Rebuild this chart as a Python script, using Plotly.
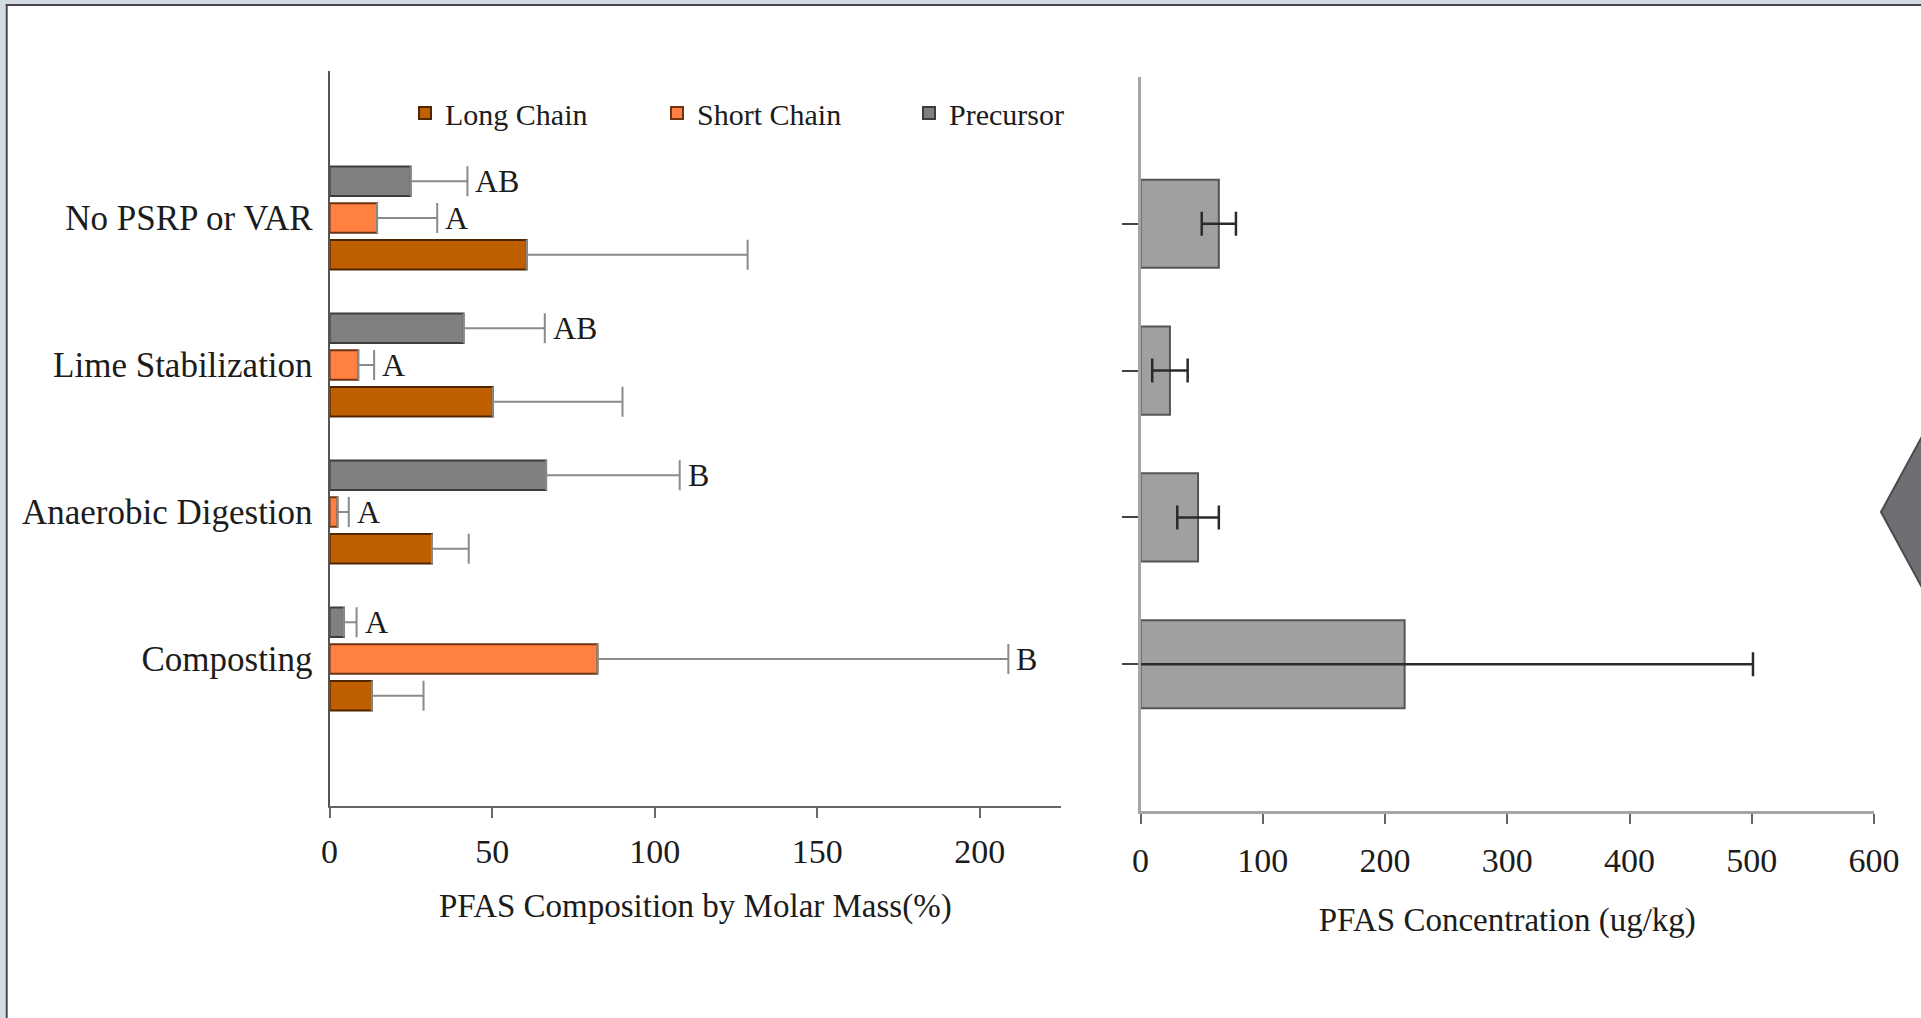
import plotly.graph_objects as go

# ---------------- data ----------------
categories = ["Composting", "Anaerobic Digestion", "Lime Stabilization", "No PSRP or VAR"]
series_names = ["Long Chain", "Short Chain", "Precursor"]

long_chain = [13.0, 31.5, 50.2, 60.6]
long_chain_err = [15.9, 11.3, 39.9, 68.0]
short_chain = [82.4, 2.4, 8.8, 14.6]
short_chain_err = [126.4, 3.5, 4.9, 18.5]
precursor = [4.4, 66.6, 41.2, 24.9]
precursor_err = [3.9, 41.1, 25.0, 17.5]

long_letters = ["", "", "", ""]
short_letters = ["B", "A", "A", "A"]
precursor_letters = ["A", "B", "AB", "AB"]

concentration = [216, 47, 24, 64]
concentration_err = [285, 17, 14.5, 14]

left_ticks = [0, 50, 100, 150, 200]
right_ticks = [0, 100, 200, 300, 400, 500, 600]

left_title = "PFAS Composition by Molar Mass(%)"
right_title = "PFAS Concentration (ug/kg)"

# ---------------- styling ----------------
W, H = 1921, 1018
FONT = "Liberation Serif"
TXT = "#1c1c1c"
BARGAP = 0.25
BARGROUPGAP = 0.2

fills = ["#C05F00", "#FF8040", "#808080"]
borders = ["#4f2600", "#6b3514", "#3d3d3d"]

values = [long_chain, short_chain, precursor]
errors = [long_chain_err, short_chain_err, precursor_err]
letters = [long_letters, short_letters, precursor_letters]


def px_x(p):
    return p / W


def px_y(p):
    return 1 - p / H


fig = go.Figure()

for name, v, e, fc, bc in zip(series_names, values, errors, fills, borders):
    fig.add_trace(go.Bar(
        name=name, orientation="h", y=categories, x=v,
        marker=dict(color=fc, line=dict(color=bc, width=2)),
        error_x=dict(type="data", array=e, arrayminus=[0] * len(e), symmetric=False,
                     color="#8a8a8a", thickness=2, width=15),
        xaxis="x", yaxis="y",
    ))

fig.add_trace(go.Bar(
    name="PFAS Concentration", orientation="h", y=categories, x=concentration,
    width=0.6, showlegend=False,
    marker=dict(color="#A0A0A0", line=dict(color="#555555", width=2)),
    error_x=dict(type="data", array=concentration_err, symmetric=True,
                 color="#2b2b2b", thickness=2.5, width=12),
    xaxis="x2", yaxis="y2",
))

# significance letters placed at the end of each error bar
annotations = []
n = len(series_names)
slot = (1 - BARGAP) / n
for i, (v, e, let) in enumerate(zip(values, errors, letters)):
    off = -(1 - BARGAP) / 2 + (i + 0.5) * slot
    for j, (vv, ee, ll) in enumerate(zip(v, e, let)):
        if ll:
            annotations.append(dict(
                x=vv + ee, y=j + off, xref="x", yref="y", text=ll, showarrow=False,
                xanchor="left", yanchor="middle", xshift=6,
                font=dict(family=FONT, size=32, color=TXT)))

shapes = [
    dict(type="rect", xref="paper", yref="paper", x0=0, x1=px_x(5.5), y0=0, y1=1,
         fillcolor="#D3DBE3", line=dict(width=0), layer="above"),
    dict(type="rect", xref="paper", yref="paper", x0=0, x1=1, y0=px_y(4), y1=1,
         fillcolor="#D3DBE3", line=dict(width=0), layer="above"),
    dict(type="line", xref="paper", yref="paper", x0=px_x(6.7), x1=px_x(6.7), y0=0, y1=px_y(4.5),
         line=dict(color="#4d4350", width=2), layer="above"),
    dict(type="line", xref="paper", yref="paper", x0=px_x(5.7), x1=1, y0=px_y(5), y1=px_y(5),
         line=dict(color="#4d4350", width=2), layer="above"),
    dict(type="path", xref="paper", yref="paper",
         path="M {},{} L {},{} L {},{} Z".format(px_x(1881), px_y(512), px_x(1932), px_y(418),
                                                px_x(1932), px_y(606)),
         fillcolor="#6e6e73", line=dict(color="#4a4a4e", width=2), layer="above"),
]

fig.update_layout(
    width=W, height=H,
    margin=dict(l=0, r=0, t=0, b=0, autoexpand=False),
    paper_bgcolor="white", plot_bgcolor="white",
    font=dict(family=FONT, color=TXT),
    barmode="group", bargap=BARGAP, bargroupgap=BARGROUPGAP,
    showlegend=True,
    legend=dict(orientation="h", x=px_x(405), xanchor="left", y=px_y(113), yanchor="middle",
                font=dict(family=FONT, size=30, color=TXT), traceorder="normal",
                entrywidth=207, entrywidthmode="pixels", bgcolor="rgba(0,0,0,0)"),
    xaxis=dict(domain=[px_x(329.6), px_x(1061)], range=[0, 225], anchor="y", automargin=False,
               tickvals=left_ticks, ticks="outside", ticklen=10, tickwidth=2, tickcolor="#6a6a6a",
               showline=True, linecolor="#666666", linewidth=2, showgrid=False, zeroline=False,
               tickfont=dict(size=34, family=FONT, color=TXT), ticklabelstandoff=4,
               title=dict(text=left_title, font=dict(size=33, family=FONT, color=TXT), standoff=25)),
    yaxis=dict(domain=[px_y(806), px_y(71)], range=[-1, 4], anchor="x", type="category",
               categoryorder="array", categoryarray=categories, automargin=False,
               ticks="", showline=True, linecolor="#555555", linewidth=2, showgrid=False,
               tickfont=dict(size=35, family=FONT, color=TXT), ticklabelstandoff=8),
    xaxis2=dict(domain=[px_x(1140.6), px_x(1874)], range=[0, 600], anchor="y2", automargin=False,
                tickvals=right_ticks, ticks="outside", ticklen=10, tickwidth=2, tickcolor="#666666",
                showline=True, linecolor="#a6a6a6", linewidth=3, showgrid=False, zeroline=False,
                tickfont=dict(size=34, family=FONT, color=TXT), ticklabelstandoff=7,
                title=dict(text=right_title, font=dict(size=33, family=FONT, color=TXT), standoff=31)),
    yaxis2=dict(domain=[px_y(811), px_y(77)], range=[-1, 4], anchor="x2", type="category",
                categoryorder="array", categoryarray=categories, automargin=False,
                ticks="outside", ticklen=16, tickwidth=2, tickcolor="#444444",
                showticklabels=False, showline=True, linecolor="#a6a6a6", linewidth=3,
                showgrid=False),
    annotations=annotations,
    shapes=shapes,
)

fig.write_html("out.html")
